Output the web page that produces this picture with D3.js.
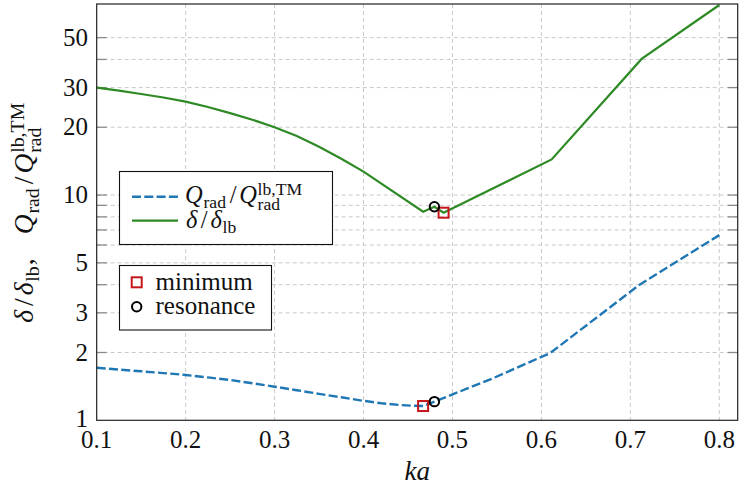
<!DOCTYPE html>
<html>
<head>
<meta charset="utf-8">
<script src="https://cdn.jsdelivr.net/npm/d3@7"></script>
<style>
  html, body { margin: 0; padding: 0; background: #fff; }
  svg { display: block; }
</style>
</head>
<body>
<svg id="chart" width="739" height="488"></svg>
<script>
// Normalised radiation quality factor and bandwidth-ratio curves vs. ka
const kaQ   = [0.100, 0.125, 0.150, 0.175, 0.200, 0.225, 0.250, 0.275, 0.300, 0.325, 0.350, 0.375, 0.400, 0.420, 0.440, 0.455, 0.467, 0.4797, 0.546, 0.610, 0.710, 0.800];
const qRad  = [1.71, 1.68, 1.65, 1.62, 1.59, 1.55, 1.51, 1.46, 1.41, 1.36, 1.31, 1.265, 1.22, 1.19, 1.17, 1.16, 1.157, 1.21, 1.54, 1.99, 3.99, 6.64];

const kaD   = [0.100, 0.125, 0.150, 0.175, 0.200, 0.225, 0.250, 0.275, 0.300, 0.325, 0.350, 0.375, 0.400, 0.467, 0.4797, 0.490, 0.6115, 0.7127, 0.800];
const delta = [30.0, 29.1, 28.1, 27.1, 26.0, 24.6, 23.1, 21.6, 20.0, 18.3, 16.4, 14.5, 12.7, 8.43, 8.87, 8.35, 14.4, 40.2, 69.8];

// Highlighted points: [ka, value]
const minimumPts   = [[0.467, 1.157], [0.490, 8.35]];
const resonancePts = [[0.4797, 1.21], [0.4797, 8.87]];

const xTicks      = [0.1, 0.2, 0.3, 0.4, 0.5, 0.6, 0.7, 0.8];
const yTickLabels = [1, 2, 3, 5, 10, 20, 30, 50];
const yGrid       = [2, 3, 4, 5, 6, 7, 8, 9, 10, 20, 30, 40, 50];

const BLUE = "#1f77b4", GREEN = "#2e8a24", RED = "#c4161c";

// pick the first installed serif face
function pickFont(cands) {
  const ctx = document.createElement("canvas").getContext("2d");
  const probe = "mmmmmmmmwwwwwlliiQδ0123456789";
  const width = f => { ctx.font = "40px " + f; return ctx.measureText(probe).width; };
  for (const c of cands) {
    const q = `"${c}"`;
    if (width(`${q}, monospace`) !== width("monospace") || width(`${q}, sans-serif`) !== width("sans-serif")) return q;
  }
  return "serif";
}
const FONT = pickFont(["Liberation Serif", "DejaVu Serif", "Noto Serif", "Tinos", "Times New Roman", "FreeSerif"]) + ", serif";

const svg = d3.select("#chart").attr("font-family", FONT);
const L = 96.7, R = 737.7, T = 4, B = 420.3;
const x = d3.scaleLinear().domain([0.1, 0.8207]).range([L, R]);
const y = d3.scaleLog().domain([1, 70.5]).range([B, T]);

// grid
const grid = svg.append("g").attr("stroke", "#c9c9c9").attr("stroke-width", 1).attr("stroke-dasharray", "4,3");
grid.selectAll("line.v").data(xTicks.slice(1)).join("line")
  .attr("x1", d => x(d)).attr("x2", d => x(d)).attr("y1", T).attr("y2", B);
grid.selectAll("line.h").data(yGrid).join("line")
  .attr("x1", L).attr("x2", R).attr("y1", d => y(d)).attr("y2", d => y(d));

// inward ticks on left and right
const ticks = svg.append("g").attr("stroke", "#8a8a8a").attr("stroke-width", 1.3);
yGrid.forEach(v => {
  ticks.append("line").attr("x1", L).attr("x2", L + 10).attr("y1", y(v)).attr("y2", y(v));
  ticks.append("line").attr("x1", R - 10).attr("x2", R).attr("y1", y(v)).attr("y2", y(v));
});

// curves
svg.append("clipPath").attr("id", "plotclip").append("rect")
  .attr("x", L).attr("y", T).attr("width", R - L).attr("height", B - T);
const line = d3.line().x(d => x(d[0])).y(d => y(d[1]));
svg.append("path").attr("clip-path", "url(#plotclip)")
  .attr("d", line(d3.zip(kaQ, qRad)))
  .attr("fill", "none").attr("stroke", BLUE).attr("stroke-width", 2.4)
  .attr("stroke-dasharray", "9,3.3");
svg.append("path").attr("clip-path", "url(#plotclip)")
  .attr("d", line(d3.zip(kaD, delta)))
  .attr("fill", "none").attr("stroke", GREEN).attr("stroke-width", 2.2);

// markers
svg.selectAll("rect.min").data(minimumPts).join("rect")
  .attr("x", d => x(d[0]) - 5).attr("y", d => y(d[1]) - 5)
  .attr("width", 10).attr("height", 10)
  .attr("fill", "none").attr("stroke", RED).attr("stroke-width", 2);
svg.selectAll("circle.res").data(resonancePts).join("circle")
  .attr("cx", d => x(d[0])).attr("cy", d => y(d[1])).attr("r", 4.7)
  .attr("fill", "none").attr("stroke", "#000").attr("stroke-width", 2);

// frame
svg.append("rect").attr("x", L).attr("y", T).attr("width", R - L).attr("height", B - T)
  .attr("fill", "none").attr("stroke", "#222").attr("stroke-width", 1.2);

// tick labels
svg.append("g").selectAll("text").data(xTicks).join("text")
  .attr("fill", "#111")
  .attr("x", d => x(d)).attr("y", 448).attr("text-anchor", "middle")
  .attr("font-size", 25).text(d => d3.format(".1f")(d));
svg.append("g").selectAll("text").data(yTickLabels).join("text")
  .attr("fill", "#111")
  .attr("x", 88).attr("y", d => y(d) - (d === 1 ? 2 : 0)).attr("dy", "0.33em").attr("text-anchor", "end")
  .attr("font-size", 25).text(d => d);

// math-ish text as one <text> of absolutely placed tspans:
// pieces are {t, i, w} (w = fixed advance in em), {sup, sub} or {gap}
function mathText(g, items, size, ratio) {
  const probe = g.append("text").attr("visibility", "hidden");
  const measure = (str, fs, italic) => {
    probe.attr("font-size", fs).attr("font-style", italic ? "italic" : "normal").text(str);
    return probe.node().getComputedTextLength();
  };
  const spans = [];
  let cx = 0;
  items.forEach(it => {
    if (it.gap) { cx += it.gap; return; }
    if (it.sup !== undefined || it.sub !== undefined) {
      let w = 0;
      const both = it.sup !== undefined && it.sub !== undefined;
      if (it.sup !== undefined) {
        spans.push({x: cx, y: -size * 0.34, fs: size * ratio, t: it.sup});
        w = Math.max(w, measure(it.sup, size * ratio, false));
      }
      if (it.sub !== undefined) {
        spans.push({x: cx, y: size * (both ? 0.3 : 0.2), fs: size * ratio, t: it.sub});
        w = Math.max(w, measure(it.sub, size * ratio, false));
      }
      cx += w + size * 0.04;
    } else if (it.w) {
      const tw = measure(it.t, size, it.i);
      spans.push({x: cx + (it.w * size - tw) / 2, y: 0, fs: size, t: it.t, i: it.i});
      cx += it.w * size;
    } else {
      const tw = measure(it.t, size, it.i);
      spans.push({x: cx, y: 0, fs: size, t: it.t, i: it.i});
      cx += tw + (it.i ? size * 0.03 : 0);
    }
  });
  probe.remove();
  const txt = g.append("text").attr("fill", "#111");
  spans.forEach(s => txt.append("tspan")
    .attr("x", s.x).attr("y", s.y).attr("font-size", s.fs)
    .attr("font-style", s.i ? "italic" : "normal").text(s.t));
  return cx;
}

const qLabel = [{t: "Q", i: true}, {sub: "rad"}, {t: "/", w: 0.5}, {t: "Q", i: true}, {sup: "lb,TM", sub: "rad"}];
const dLabel = [{t: "δ", i: true}, {t: "/", w: 0.5}, {t: "δ", i: true}, {sub: "lb"}];

// axis titles
svg.append("text").attr("fill", "#111")
  .attr("x", (L + R) / 2).attr("y", 480).attr("text-anchor", "middle")
  .attr("font-size", 27).attr("font-style", "italic").text("ka");

const yl = svg.append("g");
const ylInner = yl.append("g");
const ylw = mathText(ylInner, [...dLabel, {t: ","}, {gap: 24}, ...qLabel], 27.5, 0.72);
yl.attr("transform", `translate(33,${(T + B) / 2}) rotate(-90)`);
ylInner.attr("transform", `translate(${-ylw / 2},0)`);

// legend: curves
const lg1 = svg.append("g");
lg1.append("rect").attr("x", 119.5).attr("y", 171.5).attr("width", 213).attr("height", 73)
  .attr("fill", "#fff").attr("stroke", "#111").attr("stroke-width", 1.1);
lg1.append("line").attr("x1", 132).attr("x2", 178).attr("y1", 196.7).attr("y2", 196.7)
  .attr("stroke", BLUE).attr("stroke-width", 2.4).attr("stroke-dasharray", "9,3.3");
lg1.append("line").attr("x1", 132).attr("x2", 178).attr("y1", 220.7).attr("y2", 220.7)
  .attr("stroke", GREEN).attr("stroke-width", 2.2);
mathText(lg1.append("g").attr("transform", "translate(185,203)"), qLabel, 24.5, 0.72);
mathText(lg1.append("g").attr("transform", "translate(186,228)"), dLabel, 24.5, 0.72);

// legend: markers
const lg2 = svg.append("g");
lg2.append("rect").attr("x", 119.5).attr("y", 265.5).attr("width", 152).attr("height", 64.5)
  .attr("fill", "#fff").attr("stroke", "#111").attr("stroke-width", 1.1);
lg2.append("rect").attr("x", 131.7).attr("y", 277.3).attr("width", 10).attr("height", 10)
  .attr("fill", "none").attr("stroke", RED).attr("stroke-width", 2);
lg2.append("circle").attr("cx", 136.7).attr("cy", 306.7).attr("r", 4.7)
  .attr("fill", "none").attr("stroke", "#000").attr("stroke-width", 2);
lg2.append("text").attr("fill", "#111")
  .attr("x", 155.5).attr("y", 290).attr("font-size", 25).text("minimum");
lg2.append("text").attr("fill", "#111")
  .attr("x", 155.5).attr("y", 314).attr("font-size", 25).text("resonance");
</script>
</body>
</html>
